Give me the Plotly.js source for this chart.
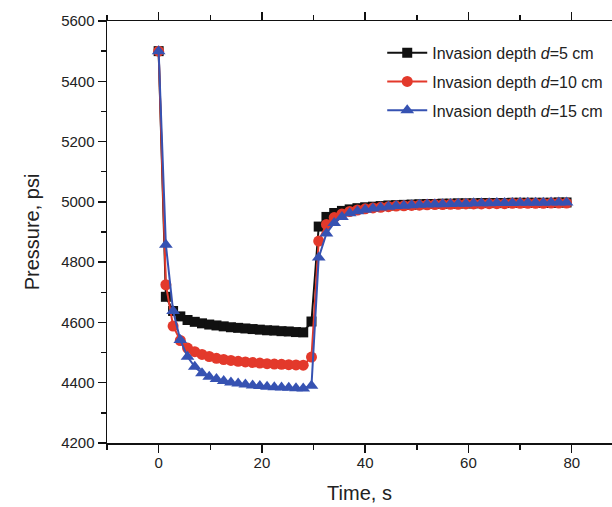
<!DOCTYPE html>
<html>
<head>
<meta charset="utf-8">
<script src="https://cdn.plot.ly/plotly-3.0.1.min.js"></script>
<style>html,body{margin:0;padding:0;background:#fff;}#chart{width:612px;height:507px;}</style>
</head>
<body>
<div id="chart"></div>
<script>
// Time, s
const time = [0, 1.4, 2.8, 4.2, 5.6, 7.0, 8.4, 9.8, 11.2, 12.6, 14.0, 15.4, 16.8, 18.2, 19.6, 21.0, 22.4, 23.8, 25.2, 26.6, 28.0, 29.6,
  31, 32.5, 34, 35.5, 37, 38.5, 40, 41.5, 43, 44.5, 46, 47.5, 49, 50.5, 52, 53.5, 55, 56.5, 58, 59.5, 61, 62.5, 64, 65.5, 67, 68.5, 70, 71.5, 73, 74.5, 76, 77.5, 79];

// Pressure, psi
const depth5 = [5500, 4685, 4638, 4620, 4608, 4602, 4597, 4593, 4590, 4587, 4584, 4582, 4580, 4578, 4576, 4574, 4573, 4571, 4570, 4568, 4567, 4603,
  4918, 4950, 4963, 4970, 4975, 4979, 4982, 4984, 4986, 4988, 4989, 4990, 4991, 4992, 4993, 4993, 4994, 4994, 4995, 4995, 4995, 4996, 4996, 4996, 4996, 4997, 4997, 4997, 4997, 4997, 4997, 4998, 4998];
const depth10 = [5500, 4725, 4588, 4540, 4515, 4503, 4494, 4487, 4481, 4477, 4474, 4471, 4469, 4467, 4465, 4463, 4462, 4461, 4460, 4459, 4458, 4485,
  4870, 4925, 4948, 4960, 4968, 4973, 4977, 4980, 4982, 4984, 4986, 4987, 4988, 4989, 4990, 4991, 4991, 4992, 4992, 4993, 4993, 4993, 4994, 4994, 4994, 4995, 4995, 4995, 4995, 4995, 4996, 4996, 4996];
const depth15 = [5500, 4858, 4638, 4542, 4486, 4453, 4431, 4420, 4412, 4406, 4401, 4397, 4394, 4391, 4389, 4387, 4385, 4384, 4383, 4382, 4381, 4390,
  4815, 4895, 4930, 4950, 4962, 4969, 4974, 4978, 4981, 4984, 4986, 4987, 4989, 4990, 4991, 4992, 4992, 4993, 4994, 4994, 4995, 4995, 4995, 4996, 4996, 4996, 4997, 4997, 4997, 4997, 4998, 4998, 4998];

const seriesNames = ['Invasion depth <i>d</i>=5 cm', 'Invasion depth <i>d</i>=10 cm', 'Invasion depth <i>d</i>=15 cm'];
const xTicks = [0, 20, 40, 60, 80];
const yTicks = [4200, 4400, 4600, 4800, 5000, 5200, 5400, 5600];

const FONT = 'Liberation Sans, Arial, sans-serif';
const colors = ['#111111', '#e3392b', '#3652b2'];
const symbols = ['square', 'circle', 'triangle-up'];
const sizes = [10, 11, 12];
const ys = [depth5, depth10, depth15];

const traces = ys.map((y, i) => ({
  x: time, y: y, type: 'scatter', mode: 'lines+markers',
  name: seriesNames[i], legendgroup: 'g' + i,
  line: {color: colors[i], width: 2},
  marker: {color: colors[i], symbol: symbols[i], size: sizes[i], line: {width: 0}}
}));

const layout = {
  width: 612, height: 507,
  margin: {l: 107, r: 0, t: 21, b: 64, pad: 0},
  paper_bgcolor: '#fff', plot_bgcolor: '#fff',
  font: {family: FONT, color: '#222', size: 15},
  showlegend: true,
  legend: {x: 0.545, y: 0.965, xanchor: 'left', yanchor: 'top', bgcolor: 'rgba(0,0,0,0)',
           font: {family: FONT, size: 16, color: '#222'}, tracegroupgap: 5, itemwidth: 40},
  xaxis: {
    range: [-10, 87.8], tickvals: xTicks, ticktext: xTicks.map(String),
    showgrid: false, zeroline: false, showline: true, linecolor: '#111', linewidth: 1.5,
    mirror: 'ticks', ticks: 'outside', ticklen: 8, tickwidth: 1.5, tickcolor: '#111',
    ticklabelstandoff: -3,
    minor: {tickvals: [-10, 10, 30, 50, 70], ticks: 'outside', ticklen: 5, tickwidth: 1.5, tickcolor: '#111'},
    tickfont: {family: FONT, size: 15, color: '#222'},
    title: {text: 'Time, s', font: {family: FONT, size: 20, color: '#222'}, standoff: 16}
  },
  yaxis: {
    range: [4200, 5600], tickvals: yTicks, ticktext: yTicks.map(String),
    showgrid: false, zeroline: false, showline: true, linecolor: '#111', linewidth: 1.5,
    mirror: false, ticks: 'outside', ticklen: 8, tickwidth: 1.5, tickcolor: '#111',
    minor: {dtick: 100, tick0: 4200, ticks: 'outside', ticklen: 5, tickwidth: 1.5, tickcolor: '#111'},
    tickfont: {family: FONT, size: 15, color: '#222'},
    title: {text: 'Pressure, psi', font: {family: FONT, size: 20, color: '#222'}, standoff: 16}
  }
};

Plotly.newPlot('chart', traces, layout, {displayModeBar: false, staticPlot: true});
</script>
</body>
</html>
